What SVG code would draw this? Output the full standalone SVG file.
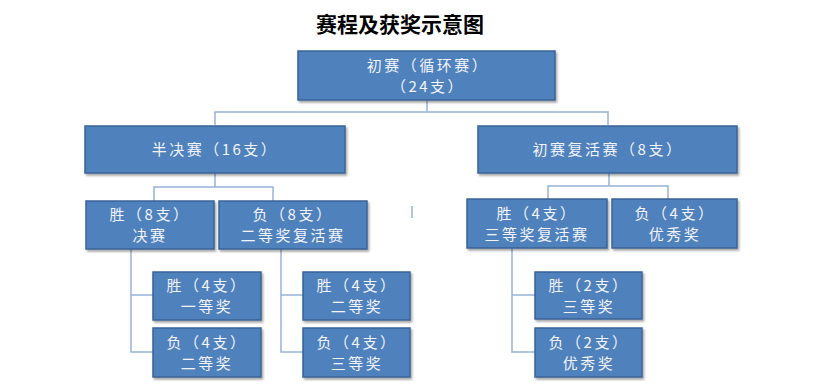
<svg xmlns="http://www.w3.org/2000/svg" width="831" height="384" viewBox="0 0 831 384">
<defs>
<filter id="sh" x="-10%" y="-10%" width="130%" height="140%">
<feDropShadow dx="1.5" dy="2" stdDeviation="1.2" flood-color="#000" flood-opacity="0.35"/>
</filter>
</defs>
<style>
.box{fill:#4F81BD;stroke:#3A6496;stroke-width:1.5;filter:url(#sh)}
.t{font-family:"Noto Sans CJK SC","Liberation Sans",sans-serif;font-size:15px;fill:#F2F4FA;text-anchor:middle;letter-spacing:2.5px}
.c{fill:none;stroke:#95B3D7;stroke-width:1.5}
.title{font-family:"Noto Sans CJK SC",sans-serif;font-size:21px;font-weight:bold;fill:#000;text-anchor:middle}
</style>
<rect width="831" height="384" fill="#fff"/>
<text class="title" x="400" y="32">赛程及获奖示意图</text>
<g id="connectors">
<path class="c" d="M427 100V112M215 125V112H608V125"/>
<path class="c" d="M215 173V187M154 201V187H273V201"/>
<path class="c" d="M609 173V186M548 199V186H668V199"/>
<path class="c" d="M131 249V352H153M131 295H153"/>
<path class="c" d="M281 249V352H303M281 295H303"/>
<path class="c" d="M512 248V352H535M512 295H535"/>
<path class="c" d="M412 206V218" stroke="#4F81BD"/>
</g>
<g id="n-top"><rect class="box" x="298" y="51" width="257" height="49"/>
<text class="t" x="428" y="71">初赛（循环赛）</text>
<text class="t" x="428" y="92">（24支）</text></g>
<g id="n-semi"><rect class="box" x="85" y="126" width="260" height="47"/>
<text class="t" x="215" y="155">半决赛（16支）</text></g>
<g id="n-rev"><rect class="box" x="478" y="126" width="259" height="47"/>
<text class="t" x="608" y="155">初赛复活赛（8支）</text></g>
<g id="n-final"><rect class="box" x="86" y="201" width="128" height="48"/>
<text class="t" x="150" y="220">胜（8支）</text>
<text class="t" x="150" y="241">决赛</text></g>
<g id="n-second-rev"><rect class="box" x="219" y="201" width="148" height="48"/>
<text class="t" x="293" y="220">负（8支）</text>
<text class="t" x="293" y="241">二等奖复活赛</text></g>
<g id="n-third-rev"><rect class="box" x="467" y="199" width="140" height="49"/>
<text class="t" x="537" y="219">胜（4支）</text>
<text class="t" x="537" y="240">三等奖复活赛</text></g>
<g id="n-excellent"><rect class="box" x="612" y="199" width="125" height="49"/>
<text class="t" x="675" y="219">负（4支）</text>
<text class="t" x="675" y="240">优秀奖</text></g>
<g id="n-first"><rect class="box" x="153" y="272" width="108" height="48"/>
<text class="t" x="207" y="291">胜（4支）</text>
<text class="t" x="207" y="312">一等奖</text></g>
<g id="n-second-a"><rect class="box" x="153" y="328" width="108" height="49"/>
<text class="t" x="207" y="348">负（4支）</text>
<text class="t" x="207" y="369">二等奖</text></g>
<g id="n-second-b"><rect class="box" x="303" y="272" width="107" height="48"/>
<text class="t" x="357" y="291">胜（4支）</text>
<text class="t" x="357" y="312">二等奖</text></g>
<g id="n-third-a"><rect class="box" x="303" y="328" width="107" height="49"/>
<text class="t" x="357" y="348">负（4支）</text>
<text class="t" x="357" y="369">三等奖</text></g>
<g id="n-third-b"><rect class="box" x="535" y="272" width="107" height="47"/>
<text class="t" x="589" y="291">胜（2支）</text>
<text class="t" x="589" y="312">三等奖</text></g>
<g id="n-excellent-b"><rect class="box" x="535" y="328" width="107" height="49"/>
<text class="t" x="589" y="348">负（2支）</text>
<text class="t" x="589" y="369">优秀奖</text></g>
</svg>
